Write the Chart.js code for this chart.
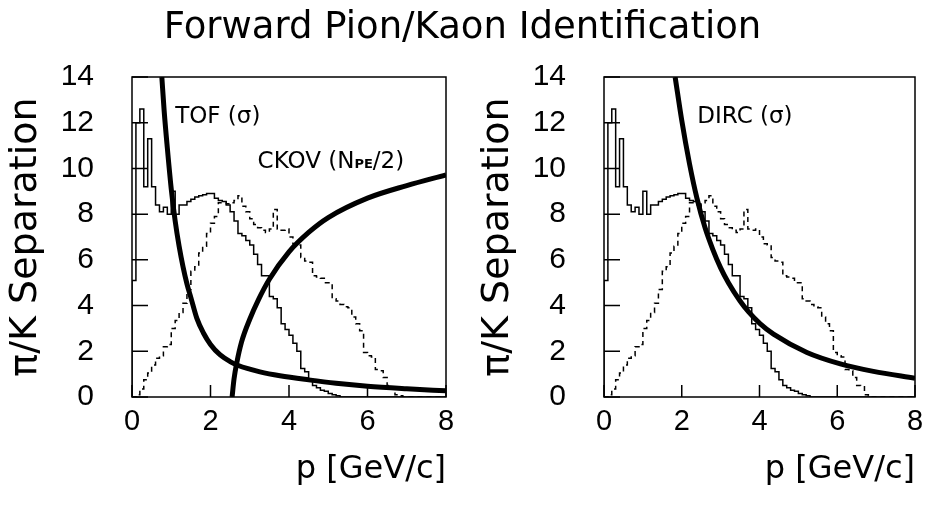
<!DOCTYPE html>
<html>
<head>
<meta charset="utf-8">
<script src="https://cdn.jsdelivr.net/npm/chart.js@4.4.0/dist/chart.umd.min.js"></script>
<style>
  html, body { margin: 0; padding: 0; background: #fff; }
  #wrap { position: relative; width: 925px; height: 515px; overflow: hidden; background: #fff; }
  #title { position: absolute; left: 0; top: 4px; width: 925px; text-align: center;
           font: 37px 'DejaVu Sans', sans-serif; line-height: 43px; color: #000; z-index: 2; }
  canvas { position: absolute; top: 0; }
</style>
</head>
<body>
<div id="wrap">
  <canvas id="left" width="462" height="515" style="left:0"></canvas>
  <canvas id="right" width="453" height="515" style="left:472px"></canvas>
  <div id="title">Forward Pion/Kaon Identification</div>
</div>
<script>
// momentum bins, 0.1 GeV/c wide, 0 .. 8
const binWidth = 0.1

// solid histogram (same in both panels)
const solidHist = [
  0, 5.1, 12.0, 12.6, 9.2, 11.3, 9.2, 8.4, 8.1, 8.3,
  8.0, 9.0, 8.0, 8.4, 8.4, 8.55, 8.65, 8.75, 8.8, 8.85,
  8.9, 8.9, 8.7, 8.6, 8.55, 8.4, 8.1, 7.7, 7.15, 7.05,
  6.85, 6.65, 6.25, 5.8, 5.3, 5.3, 4.4, 4.3, 3.9, 3.2,
  2.95, 2.7, 2.35, 2.0, 1.25, 1.1, 0.75, 0.5, 0.4, 0.3,
  0.25, 0.15, 0.1, 0.05, 0, 0, 0, 0, 0, 0,
  0, 0, 0, 0, 0, 0, 0, 0, 0, 0,
  0, 0, 0, 0, 0, 0, 0, 0, 0, 0
]

// dashed histogram
const dashedHist = [
  0, 0, 0.1, 0.35, 0.75, 1.05, 1.4, 1.7, 1.8, 2.2,
  2.3, 3.0, 3.35, 3.7, 4.1, 4.7, 5.5, 5.7, 6.3, 6.6,
  7.15, 7.6, 7.9, 8.5, 8.5, 8.45, 8.5, 8.6, 8.8, 8.35,
  8.1, 7.8, 7.55, 7.4, 7.3, 7.2, 7.35, 8.2, 7.35, 7.3,
  7.35, 7.0, 6.7, 6.65, 6.1, 5.95, 5.9, 5.3, 5.25, 5.2,
  5.0, 5.0, 4.3, 4.2, 4.05, 3.95, 3.9, 3.5, 3.2, 2.9,
  1.95, 1.8, 1.75, 1.2, 1.15, 0.85, 0.5, 0.45, 0.1, 0.05,
  0, 0, 0, 0, 0, 0, 0, 0, 0, 0
]

// separation curves
const tofP   = [0.76, 0.82, 0.9, 1.0, 1.1, 1.2, 1.3, 1.4, 1.5, 1.65, 1.82, 2.0, 2.24, 2.5, 2.71, 3.0, 3.26, 3.77, 4.5, 5.2, 6.0, 7.0, 8.0]
const tofSep = [14.0, 12.5, 10.9, 9.1, 7.7, 6.6, 5.7, 4.95, 4.35, 3.45, 2.8, 2.3, 1.85, 1.55, 1.38, 1.22, 1.1, 0.93, 0.75, 0.6, 0.47, 0.36, 0.27]

const ckovP   = [2.55, 2.6, 2.67, 2.79, 3.0, 3.22, 3.5, 4.0, 4.5, 5.0, 6.0, 7.0, 8.0]
const ckovSep = [0, 0.8, 1.5, 2.4, 3.4, 4.25, 5.15, 6.35, 7.2, 7.85, 8.7, 9.25, 9.72]

const dircP   = [1.83, 2.0, 2.2, 2.39, 2.6, 2.8, 3.0, 3.2, 3.5, 3.72, 4.02, 4.36, 5.22, 6.08, 6.93, 8.0]
const dircSep = [14.0, 12.1, 10.2, 8.7, 7.4, 6.45, 5.65, 5.0, 4.2, 3.72, 3.2, 2.75, 1.95, 1.45, 1.12, 0.82]

const xTicks = [0, 2, 4, 6, 8]
const yTicks = [0, 2, 4, 6, 8, 10, 12, 14]

const FONT = "'DejaVu Sans', sans-serif"
const TICKFONT = "'Liberation Sans', Arial, sans-serif"

function histPoints(vals) {
  const pts = vals.map((v, i) => ({ x: +(i * binWidth).toFixed(1), y: v }))
  pts.push({ x: +(vals.length * binWidth).toFixed(1), y: vals[vals.length - 1] })
  return pts
}
function curvePoints(ps, vs) {
  return ps.map((p, i) => ({ x: p, y: vs[i] }))
}

const framePlugin = {
  id: 'frame',
  afterDatasetsDraw(chart, args, opts) {
    const { ctx, chartArea: a, scales: { x, y } } = chart
    ctx.save()
    ctx.strokeStyle = '#000'
    ctx.lineWidth = 1.5
    ctx.strokeRect(a.left, a.top, a.right - a.left, a.bottom - a.top)
    ctx.beginPath()
    yTicks.forEach(v => {
      const py = y.getPixelForValue(v)
      ctx.moveTo(a.left, py); ctx.lineTo(a.left + 16, py)
    })
    xTicks.forEach(v => {
      const px = x.getPixelForValue(v)
      ctx.moveTo(px, a.bottom); ctx.lineTo(px, a.bottom - 12)
    })
    ctx.stroke()

    // text notes inside the plot
    ctx.fillStyle = '#000'
    ctx.textBaseline = 'alphabetic'
    ctx.textAlign = 'left'
    ;(opts.notes || []).forEach(n => {
      let px = x.getPixelForValue(n.x)
      const py = y.getPixelForValue(n.y)
      n.parts.forEach(part => {
        ctx.font = (part.weight || '') + ' ' + part.size + 'px ' + FONT
        ctx.fillText(part.t, px, py + (part.dy || 0))
        px += ctx.measureText(part.t).width
      })
    })
    ctx.restore()
  }
}

function makeChart(id, curves, notes, padRight) {
  const datasets = [
    { data: histPoints(solidHist), stepped: 'after', borderColor: '#000', borderWidth: 1.5, pointRadius: 0 },
    { data: histPoints(dashedHist), stepped: 'after', borderColor: '#000', borderWidth: 1.5, borderDash: [5, 4], pointRadius: 0 }
  ]
  curves.forEach(c => datasets.push({
    data: c, borderColor: '#000', borderWidth: 5, pointRadius: 0,
    cubicInterpolationMode: 'monotone', borderCapStyle: 'butt'
  }))

  return new Chart(document.getElementById(id), {
    type: 'line',
    data: { datasets },
    options: {
      responsive: false,
      animation: false,
      events: [],
      layout: { padding: { top: 77, right: padRight, bottom: 0, left: 0 } },
      plugins: { legend: { display: false }, tooltip: { enabled: false }, frame: { notes } },
      scales: {
        x: {
          type: 'linear', min: 0, max: 8,
          afterFit(s) { s.height = 118 },
          afterBuildTicks(s) { s.ticks = xTicks.map(v => ({ value: v })) },
          grid: { display: false },
          border: { display: false },
          ticks: { color: '#000', font: { family: TICKFONT, size: 29 }, padding: 0, maxRotation: 0, autoSkip: false },
          title: { display: true, text: 'p [GeV/c]', align: 'end', color: '#000',
                   font: { family: FONT, size: 32 }, padding: { top: 0, bottom: 26 } }
        },
        y: {
          type: 'linear', min: 0, max: 14,
          afterFit(s) { s.width = 132 },
          afterBuildTicks(s) { s.ticks = yTicks.map(v => ({ value: v })) },
          grid: { display: false },
          border: { display: false },
          ticks: { color: '#000', font: { family: TICKFONT, size: 30 }, padding: 30, autoSkip: false },
          title: { display: true, text: 'π/K Separation', color: '#000',
                   font: { family: FONT, size: 38 }, padding: { top: 3, bottom: 0 } }
        }
      }
    },
    plugins: [framePlugin]
  })
}

makeChart('left',
  [curvePoints(tofP, tofSep), curvePoints(ckovP, ckovSep)],
  [
    { x: 1.1, y: 12.0, parts: [{ t: 'TOF (σ)', size: 23 }] },
    { x: 3.2, y: 10.0, parts: [{ t: 'CKOV (N', size: 23 }, { t: 'PE', size: 13, weight: 'bold' }, { t: '/2)', size: 23 }] }
  ], 16)

makeChart('right',
  [curvePoints(dircP, dircSep)],
  [
    { x: 2.4, y: 12.0, parts: [{ t: 'DIRC (σ)', size: 23 }] }
  ], 10)
</script>
</body>
</html>
